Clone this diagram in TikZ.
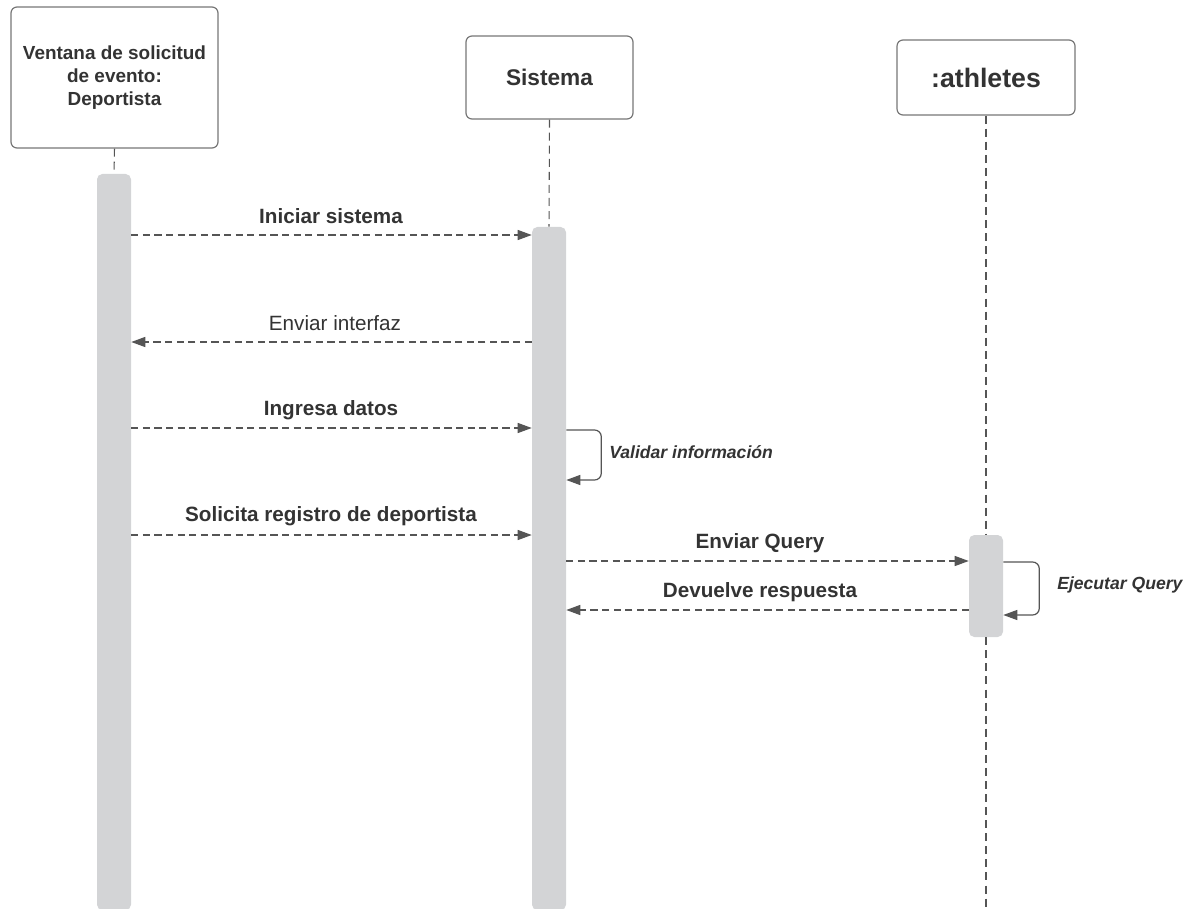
\documentclass[tikz,border=0pt]{standalone}
\usepackage{fontspec}
\setmainfont{Liberation Sans}
\usetikzlibrary{arrows.meta}
\definecolor{ink}{HTML}{333333}
\definecolor{wire}{HTML}{555555}
\definecolor{barfill}{HTML}{D3D4D6}
\definecolor{frame}{HTML}{777777}
\begin{document}
\begin{tikzpicture}[x=0.75pt,y=-0.75pt,
  head/.style={draw=frame, line width=0.9pt, rounded corners=4.5pt, fill=white,
    text=ink, align=center, inner sep=0pt},
  bar/.style={fill=barfill, rounded corners=4pt, minimum width=25.5pt, inner sep=0pt},
  life/.style={draw=wire, line width=0.8pt, dash pattern=on 6pt off 3.8pt},
  tip/.style={-{Triangle[length=10.5pt,width=7.5pt]}},
  msg/.style={draw=wire, line width=0.9pt, dash pattern=on 5.3pt off 3.4pt, tip},
  selfloop/.style={draw=wire, line width=0.9pt, rounded corners=5pt, tip},
  lbl/.style={text=ink, inner sep=0pt, font=\fontsize{15.5}{18}\selectfont\bfseries},
  lblr/.style={text=ink, inner sep=0pt, font=\fontsize{15.5}{18}\selectfont},
  note/.style={text=ink, inner sep=0pt, anchor=west, font=\fontsize{13.2}{16}\selectfont\bfseries\itshape}
]
\useasboundingbox (0,0) rectangle (1198,909);

% lifeline heads
\node[head, minimum width=155.25pt, minimum height=105.75pt,
  font=\fontsize{14.2}{17.3}\selectfont\bfseries] (h1) at (114.5,77.5)
  {Ventana de solicitud\\de evento:\\Deportista};
\node[head, minimum width=125.25pt, minimum height=62.25pt,
  font=\fontsize{17}{20}\selectfont\bfseries] (h2) at (549.5,77.5) {Sistema};
\node[head, minimum width=133.5pt, minimum height=56.25pt,
  font=\fontsize{20}{24}\selectfont\bfseries] (h3) at (986,77.5) {:athletes};

% activation bars
\node[bar, minimum height=552pt] (b1) at (114,542) {};
\node[bar, minimum height=512.25pt] (b2) at (549,568.5) {};
\node[bar, minimum height=76.5pt] (b3) at (986,586) {};
\coordinate (e3) at (986,909);

% lifelines
\draw[life] (h1.south) -- (b1.north);
\draw[life] (h2.south) -- (b2.north);
\draw[life] (h3.south) -- (b3.north);
\draw[life] (b3.south) -- (e3);

% messages
\draw[msg] (b1.east |- 0,235) -- (b2.west |- 0,235);
\node[lbl] (m1) at (331,216) {Iniciar sistema};

\draw[msg] (b2.west |- 0,342) -- (b1.east |- 0,342);
\node[lblr] (m2) at (335,323) {Enviar interfaz};

\draw[msg] (b1.east |- 0,428) -- (b2.west |- 0,428);
\node[lbl] (m3) at (331,410) {Ingresa datos};

\draw[selfloop] (b2.east |- 0,430) -- ++(35,0) -- ++(0,50) -- (b2.east |- 0,480);
\node[note] (n1) at (609,452) {Validar información};

\draw[msg] (b1.east |- 0,535) -- (b2.west |- 0,535);
\node[lbl] (m4) at (331,516) {Solicita registro de deportista};

\draw[msg] (b2.east |- 0,561) -- (b3.west |- 0,561);
\node[lbl] (m5) at (760,543) {Enviar Query};

\draw[msg] (b3.west |- 0,610) -- (b2.east |- 0,610);
\node[lbl] (m6) at (760,592) {Devuelve respuesta};

\draw[selfloop] (b3.east |- 0,562) -- ++(36,0) -- ++(0,53) -- (b3.east |- 0,615);
\node[note] (n2) at (1057,585) {Ejecutar Query};
\end{tikzpicture}
\end{document}
